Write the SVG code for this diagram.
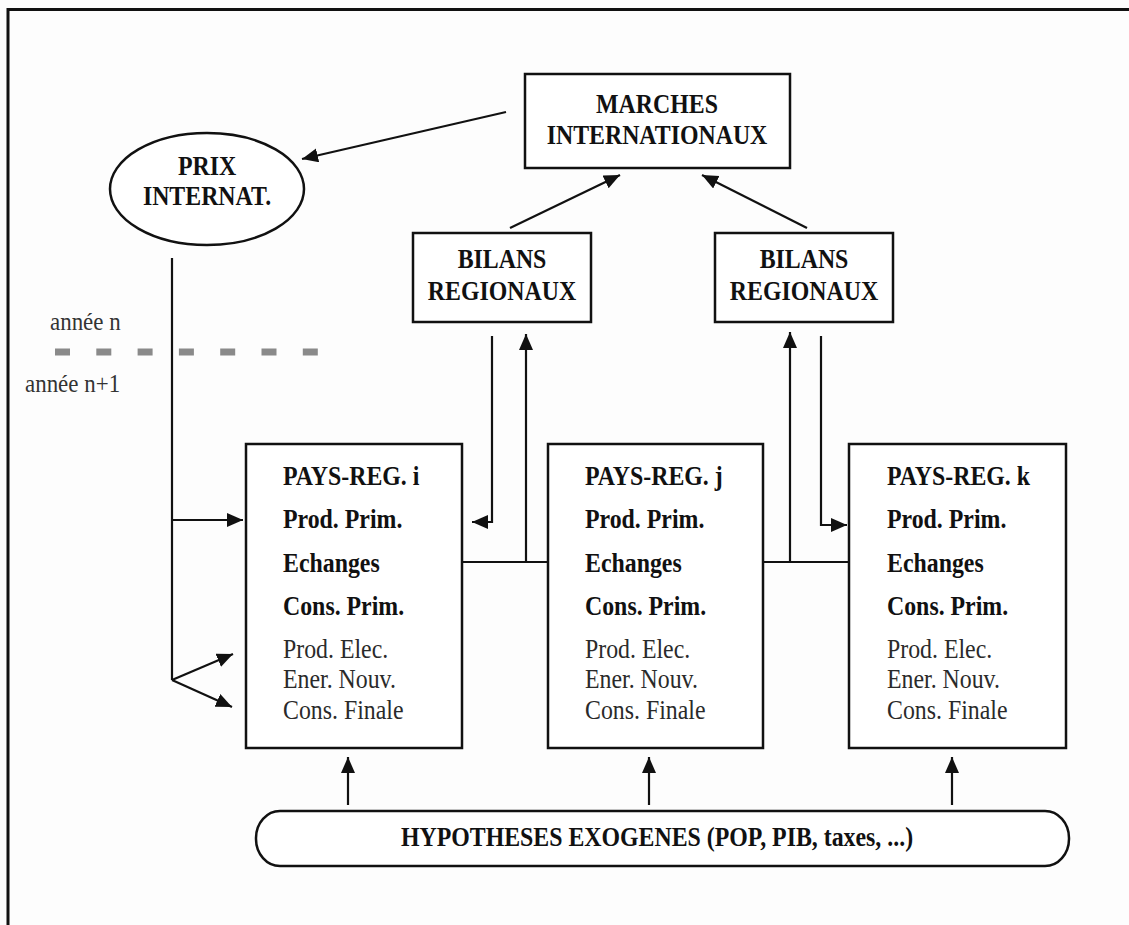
<svg xmlns="http://www.w3.org/2000/svg" width="1129" height="925" viewBox="0 0 1129 925">
<style>
.box{fill:#fff;stroke:#111;stroke-width:2.5}
.ln{fill:none;stroke:#111;stroke-width:2.2}
.b{font-family:"Liberation Serif","Times New Roman",serif;font-weight:bold;font-size:26.5px;fill:#111}
.r{font-family:"Liberation Serif","Times New Roman",serif;font-size:26.5px;fill:#2a2a2a}
.c{text-anchor:middle}
.yr{font-family:"Liberation Serif","Times New Roman",serif;font-size:25.5px;fill:#333}
</style>
<defs>
<marker id="ah" markerUnits="userSpaceOnUse" markerWidth="17" markerHeight="15" refX="16" refY="7" orient="auto" viewBox="0 0 17 15">
<path d="M0,0 L16,7 L0,14 z" fill="#111"/>
</marker>
</defs>
<rect width="1129" height="925" fill="#fdfdfd"/>
<path d="M8,925 V9.5 H1129" fill="none" stroke="#111" stroke-width="3"/>
<g id="prix">
<ellipse cx="207" cy="189" rx="97" ry="56" class="box"/>
<text transform="translate(207,175) scale(0.9,1)" class="b c">PRIX</text>
<text transform="translate(207,205) scale(0.9,1)" class="b c">INTERNAT.</text>
</g>
<g id="marches">
<rect x="525" y="74" width="265" height="94" class="box"/>
<text transform="translate(657,113) scale(0.9,1)" class="b c">MARCHES</text>
<text transform="translate(657,144) scale(0.9,1)" class="b c">INTERNATIONAUX</text>
</g>
<g id="bilans-l">
<rect x="413" y="233" width="178" height="89" class="box"/>
<text transform="translate(502,268) scale(0.9,1)" class="b c">BILANS</text>
<text transform="translate(502,300) scale(0.9,1)" class="b c">REGIONAUX</text>
</g>
<g id="bilans-r">
<rect x="715" y="233" width="178" height="89" class="box"/>
<text transform="translate(804,268) scale(0.9,1)" class="b c">BILANS</text>
<text transform="translate(804,300) scale(0.9,1)" class="b c">REGIONAUX</text>
</g>
<g id="pays-i">
<rect x="246" y="444" width="216" height="304" class="box"/>
<text transform="translate(283,485) scale(0.9,1)" class="b">PAYS-REG. i</text>
<text transform="translate(283,528) scale(0.9,1)" class="b">Prod. Prim.</text>
<text transform="translate(283,572) scale(0.9,1)" class="b">Echanges</text>
<text transform="translate(283,615) scale(0.9,1)" class="b">Cons. Prim.</text>
<text transform="translate(283,658) scale(0.9,1)" class="r">Prod. Elec.</text>
<text transform="translate(283,688) scale(0.9,1)" class="r">Ener. Nouv.</text>
<text transform="translate(283,719) scale(0.9,1)" class="r">Cons. Finale</text>
</g>
<g id="pays-j">
<rect x="548" y="444" width="215" height="304" class="box"/>
<text transform="translate(585,485) scale(0.9,1)" class="b">PAYS-REG. j</text>
<text transform="translate(585,528) scale(0.9,1)" class="b">Prod. Prim.</text>
<text transform="translate(585,572) scale(0.9,1)" class="b">Echanges</text>
<text transform="translate(585,615) scale(0.9,1)" class="b">Cons. Prim.</text>
<text transform="translate(585,658) scale(0.9,1)" class="r">Prod. Elec.</text>
<text transform="translate(585,688) scale(0.9,1)" class="r">Ener. Nouv.</text>
<text transform="translate(585,719) scale(0.9,1)" class="r">Cons. Finale</text>
</g>
<g id="pays-k">
<rect x="849" y="444" width="217" height="304" class="box"/>
<text transform="translate(887,485) scale(0.9,1)" class="b">PAYS-REG. k</text>
<text transform="translate(887,528) scale(0.9,1)" class="b">Prod. Prim.</text>
<text transform="translate(887,572) scale(0.9,1)" class="b">Echanges</text>
<text transform="translate(887,615) scale(0.9,1)" class="b">Cons. Prim.</text>
<text transform="translate(887,658) scale(0.9,1)" class="r">Prod. Elec.</text>
<text transform="translate(887,688) scale(0.9,1)" class="r">Ener. Nouv.</text>
<text transform="translate(887,719) scale(0.9,1)" class="r">Cons. Finale</text>
</g>
<g id="hypotheses">
<rect x="256" y="811" width="813" height="55" rx="24" ry="27" class="box"/>
<text transform="translate(657,846) scale(0.9,1)" class="b c">HYPOTHESES EXOGENES (POP, PIB, taxes, ...)</text>
</g>
<g id="annee">
<text transform="translate(50,330) scale(0.9,1)" class="yr">année n</text>
<line x1="55" y1="352" x2="318" y2="352" stroke="#8a8a8a" stroke-width="7" stroke-dasharray="15 26.3"/>
<text transform="translate(25,392) scale(0.9,1)" class="yr">année n+1</text>
</g>
<g id="connectors">
<line x1="506" y1="112" x2="302" y2="159" class="ln" marker-end="url(#ah)"/>
<line x1="510" y1="228" x2="620" y2="175" class="ln" marker-end="url(#ah)"/>
<line x1="807" y1="228" x2="702" y2="175" class="ln" marker-end="url(#ah)"/>
<path d="M492,336 V522 H472" class="ln" marker-end="url(#ah)"/>
<path d="M526,562 V334" class="ln" marker-end="url(#ah)"/>
<path d="M462,562 H548" class="ln"/>
<path d="M790,562 V332" class="ln" marker-end="url(#ah)"/>
<path d="M821,336 V525 H847" class="ln" marker-end="url(#ah)"/>
<path d="M763,562 H849" class="ln"/>
<path d="M172,258 V680" class="ln"/>
<path d="M172,520 H243" class="ln" marker-end="url(#ah)"/>
<path d="M172,680 L233,654" class="ln" marker-end="url(#ah)"/>
<path d="M172,680 L232,707" class="ln" marker-end="url(#ah)"/>
<path d="M348,805 V757" class="ln" marker-end="url(#ah)"/>
<path d="M649,805 V757" class="ln" marker-end="url(#ah)"/>
<path d="M952,805 V757" class="ln" marker-end="url(#ah)"/>
</g>
</svg>
